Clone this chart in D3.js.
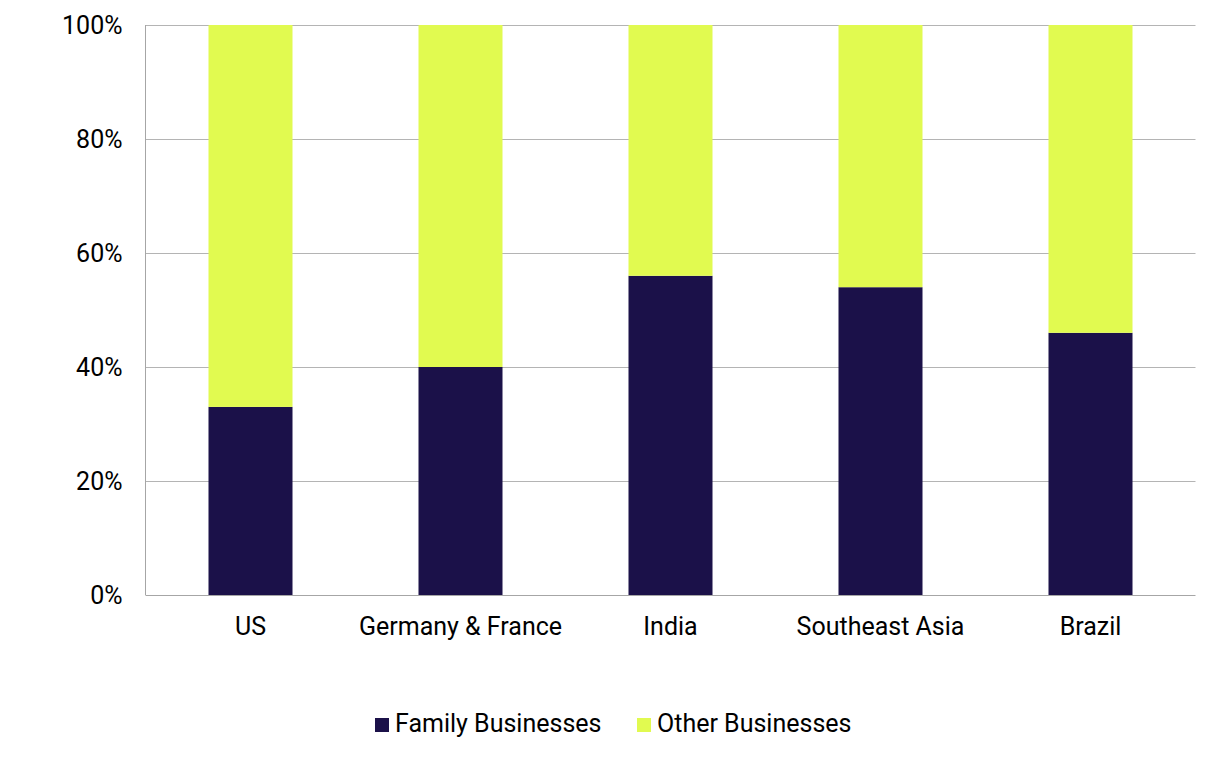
<html>
<head>
    <title>Family businesses share</title>
    <script type="text/javascript" src="https://cdn.jsdelivr.net/npm/d3@7/dist/d3.min.js"></script>
    <style>
        body { margin: 0; background: #fff; }
        text { font-family: Roboto, "Noto Sans", sans-serif; fill: #000; }
    </style>
</head>
<body>

<div id="chart"></div>

<script type="text/javascript">

    // Share of businesses by region
    var regions = ["US", "Germany & France", "India", "Southeast Asia", "Brazil"];
    var familyShare = [0.33, 0.40, 0.56, 0.54, 0.46];
    var otherShare = [0.67, 0.60, 0.44, 0.46, 0.54];
    var seriesNames = ["Family Businesses", "Other Businesses"];
    var seriesColors = ["#1b1149", "#e1fa50"];
    var yTicks = [0, 0.2, 0.4, 0.6, 0.8, 1];

    var WIDTH = 1220, HEIGHT = 758;
    var plotLeft = 145.5, plotRight = 1195.5, plotTop = 25, plotBottom = 595;
    var FONT_SIZE = 25;

    var svg = d3.select("#chart").append("svg")
        .attr("width", WIDTH)
        .attr("height", HEIGHT);

    var x = d3.scaleBand()
        .domain(regions)
        .range([plotLeft, plotRight])
        .paddingInner(0.6)
        .paddingOuter(0.3);

    var y = d3.scaleLinear()
        .domain([0, 1])
        .range([plotBottom, plotTop]);

    // horizontal grid lines
    svg.append("g").selectAll("line")
        .data(yTicks.filter(function (t) { return t > 0; }))
        .enter().append("line")
        .attr("x1", plotLeft)
        .attr("x2", plotRight)
        .attr("y1", function (d) { return Math.round(y(d)) + 0.5; })
        .attr("y2", function (d) { return Math.round(y(d)) + 0.5; })
        .attr("stroke", "#b4b4b4")
        .attr("stroke-width", 1);

    // stack the two series
    var table = regions.map(function (r, i) {
        return { region: r, family: familyShare[i], other: otherShare[i] };
    });
    var stacked = d3.stack().keys(["family", "other"])(table);

    svg.append("g").selectAll("g")
        .data(stacked)
        .enter().append("g")
        .attr("fill", function (d, i) { return seriesColors[i]; })
        .selectAll("rect")
        .data(function (d) { return d; })
        .enter().append("rect")
        .attr("x", function (d) { return x(d.data.region); })
        .attr("width", x.bandwidth())
        .attr("y", function (d) { return y(d[1]); })
        .attr("height", function (d) { return y(d[0]) - y(d[1]); });

    // axis lines
    svg.append("line")
        .attr("x1", plotLeft).attr("x2", plotLeft)
        .attr("y1", plotTop).attr("y2", plotBottom)
        .attr("stroke", "#a6a6a6").attr("stroke-width", 1);
    svg.append("line")
        .attr("x1", plotLeft).attr("x2", plotRight)
        .attr("y1", plotBottom + 0.5).attr("y2", plotBottom + 0.5)
        .attr("stroke", "#a6a6a6").attr("stroke-width", 1);

    // y labels
    var yAxis = d3.axisLeft(y)
        .tickValues(yTicks)
        .tickFormat(d3.format(".0%"))
        .tickSize(0)
        .tickPadding(23);
    var yg = svg.append("g").attr("transform", "translate(" + plotLeft + ",0)").call(yAxis);
    yg.select(".domain").remove();
    yg.selectAll("text").attr("font-size", FONT_SIZE).attr("font-family", "Roboto").attr("fill", "#000");

    // x labels
    var xAxis = d3.axisBottom(x).tickSize(0).tickPadding(22);
    var xg = svg.append("g").attr("transform", "translate(0," + plotBottom + ")").call(xAxis);
    xg.select(".domain").remove();
    xg.selectAll("text").attr("font-size", FONT_SIZE).attr("font-family", "Roboto").attr("fill", "#000");

    // legend
    var legendX = [375, 637];
    var legend = svg.append("g").selectAll("g")
        .data(seriesNames)
        .enter().append("g")
        .attr("transform", function (d, i) { return "translate(" + legendX[i] + ",718)"; });
    legend.append("rect")
        .attr("width", 14).attr("height", 14)
        .attr("fill", function (d, i) { return seriesColors[i]; });
    legend.append("text")
        .attr("x", 20).attr("y", 14)
        .attr("font-size", FONT_SIZE)
        .text(function (d) { return d; });

</script>

</body>
</html>
